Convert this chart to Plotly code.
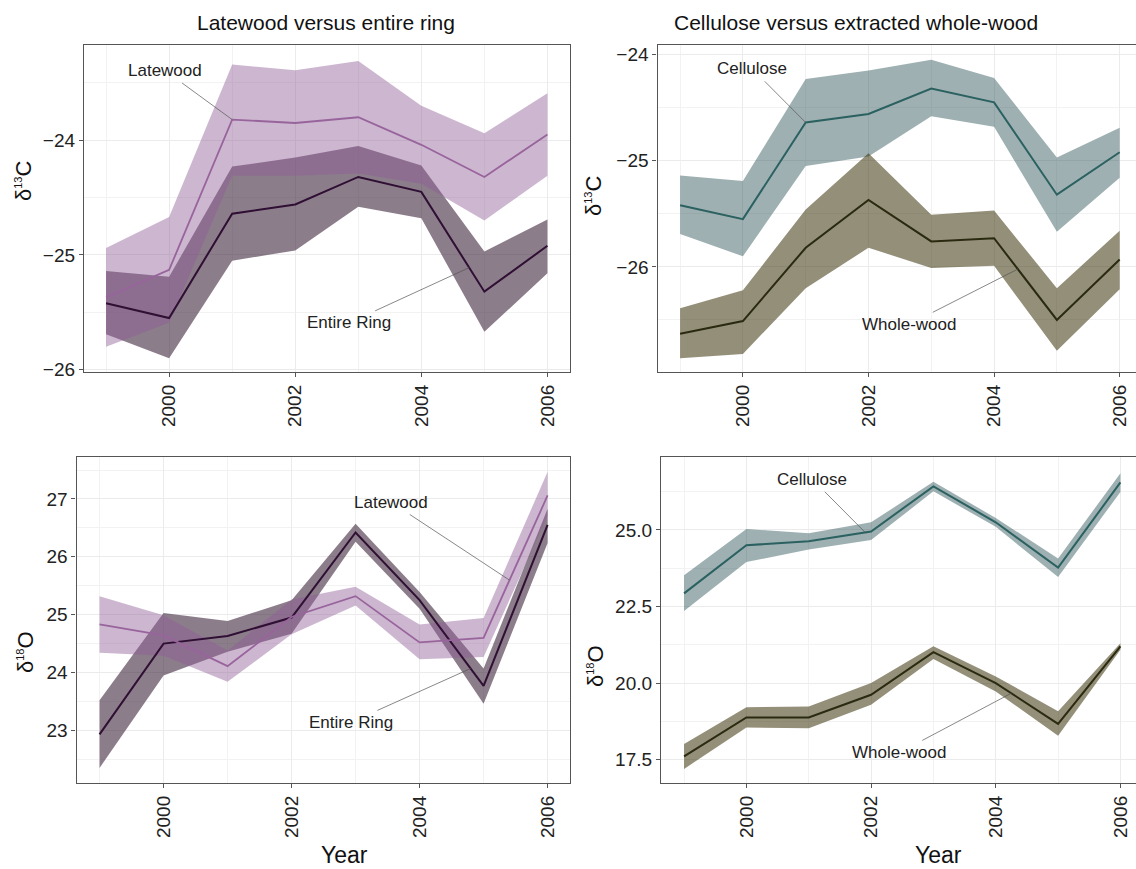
import plotly.graph_objects as go

years = [1999, 2000, 2001, 2002, 2003, 2004, 2005, 2006]

# delta 13C - entire ring / cellulose (same series in both panels)
entire_d13c = [-25.42, -25.55, -24.64, -24.56, -24.32, -24.45, -25.32, -24.92]
entire_d13c_lo = [-25.69, -25.90, -25.05, -24.96, -24.58, -24.68, -25.67, -25.16]
entire_d13c_hi = [-25.14, -25.19, -24.23, -24.15, -24.05, -24.22, -24.97, -24.69]

latewood_d13c = [-25.37, -25.13, -23.82, -23.85, -23.80, -24.04, -24.32, -23.95]
latewood_d13c_lo = [-25.80, -25.59, -24.31, -24.31, -24.29, -24.38, -24.70, -24.31]
latewood_d13c_hi = [-24.94, -24.67, -23.34, -23.39, -23.31, -23.70, -23.94, -23.59]

cellulose_d13c = [-25.42, -25.55, -24.64, -24.56, -24.32, -24.45, -25.32, -24.92]
cellulose_d13c_lo = [-25.69, -25.90, -25.05, -24.96, -24.58, -24.68, -25.67, -25.16]
cellulose_d13c_hi = [-25.14, -25.19, -24.23, -24.15, -24.05, -24.22, -24.97, -24.69]

whole_d13c = [-26.63, -26.51, -25.82, -25.37, -25.76, -25.73, -26.50, -25.93]
whole_d13c_lo = [-26.86, -26.82, -26.20, -25.82, -26.01, -25.99, -26.79, -26.21]
whole_d13c_hi = [-26.39, -26.22, -25.46, -24.93, -25.51, -25.47, -26.20, -25.66]

# delta 18O
entire_d18o = [22.93, 24.50, 24.63, 24.95, 26.42, 25.25, 23.77, 26.55]
entire_d18o_lo = [22.35, 23.95, 24.36, 24.67, 26.26, 25.10, 23.46, 26.24]
entire_d18o_hi = [23.52, 25.03, 24.89, 25.25, 26.57, 25.39, 24.07, 26.83]

latewood_d18o = [24.83, 24.64, 24.11, 24.96, 25.32, 24.52, 24.60, 27.06]
latewood_d18o_lo = [24.34, 24.29, 23.84, 24.66, 25.16, 24.23, 24.27, 26.71]
latewood_d18o_hi = [25.32, 24.99, 24.38, 25.26, 25.48, 24.83, 24.94, 27.47]

cellulose_d18o = [22.93, 24.50, 24.63, 24.95, 26.42, 25.25, 23.77, 26.55]
cellulose_d18o_lo = [22.35, 23.95, 24.36, 24.67, 26.26, 25.10, 23.46, 26.24]
cellulose_d18o_hi = [23.52, 25.03, 24.89, 25.25, 26.57, 25.39, 24.07, 26.85]

whole_d18o = [17.61, 18.88, 18.88, 19.62, 21.01, 20.00, 18.67, 21.20]
whole_d18o_lo = [17.20, 18.55, 18.53, 19.29, 20.79, 19.73, 18.28, 21.09]
whole_d18o_hi = [18.01, 19.21, 19.24, 20.00, 21.20, 20.22, 19.08, 21.30]

panel_titles = ["Latewood versus entire ring", "Cellulose versus extracted whole-wood"]
x_ticks = [2000, 2002, 2004, 2006]

W, H = 1136, 869
FONT = "Liberation Sans, Arial, sans-serif"

C_LATE_FILL = "rgba(144,93,151,0.45)"
C_LATE_LINE = "#98649c"
C_ENT_FILL = "rgba(63,38,62,0.60)"
C_ENT_LINE = "#2f0f33"
C_CEL_FILL = "rgba(40,80,85,0.45)"
C_CEL_LINE = "#2b6160"
C_WW_FILL = "rgba(60,51,11,0.55)"
C_WW_LINE = "#2a2a10"

fig = go.Figure()


def band(xa, ya, lo, hi, color):
    fig.add_trace(go.Scatter(x=years + years[::-1], y=hi + lo[::-1], fill="toself",
                             fillcolor=color, line=dict(width=0), mode="lines",
                             hoverinfo="skip", showlegend=False, xaxis=xa, yaxis=ya))


def line(xa, ya, y, color, w=1.8):
    fig.add_trace(go.Scatter(x=years, y=y, mode="lines", line=dict(color=color, width=w),
                             showlegend=False, xaxis=xa, yaxis=ya))


# Panel 1: top-left
band("x", "y", entire_d13c_lo, entire_d13c_hi, C_ENT_FILL)
band("x", "y", latewood_d13c_lo, latewood_d13c_hi, C_LATE_FILL)
line("x", "y", entire_d13c, C_ENT_LINE, 2.0)
line("x", "y", latewood_d13c, C_LATE_LINE, 1.8)
# Panel 2: top-right
band("x2", "y2", cellulose_d13c_lo, cellulose_d13c_hi, C_CEL_FILL)
band("x2", "y2", whole_d13c_lo, whole_d13c_hi, C_WW_FILL)
line("x2", "y2", cellulose_d13c, C_CEL_LINE, 2.0)
line("x2", "y2", whole_d13c, C_WW_LINE, 2.0)
# Panel 3: bottom-left
band("x3", "y3", entire_d18o_lo, entire_d18o_hi, C_ENT_FILL)
band("x3", "y3", latewood_d18o_lo, latewood_d18o_hi, C_LATE_FILL)
line("x3", "y3", entire_d18o, C_ENT_LINE, 2.0)
line("x3", "y3", latewood_d18o, C_LATE_LINE, 1.8)
# Panel 4: bottom-right
band("x4", "y4", cellulose_d18o_lo, cellulose_d18o_hi, C_CEL_FILL)
band("x4", "y4", whole_d18o_lo, whole_d18o_hi, C_WW_FILL)
line("x4", "y4", cellulose_d18o, C_CEL_LINE, 2.0)
line("x4", "y4", whole_d18o, C_WW_LINE, 2.0)

GRID = "#ebebeb"
BORDER = "#555555"
TICKFONT = dict(family=FONT, size=19, color="#222222")


def xaxis(domain, rng, anchor):
    return dict(domain=domain, range=rng, anchor=anchor, tickvals=x_ticks, tickangle=-90,
                ticks="outside", ticklen=4, tickcolor=BORDER, tickfont=TICKFONT,
                showgrid=True, gridcolor=GRID, gridwidth=1.1, zeroline=False,
                showline=True, linecolor=BORDER, linewidth=1.3, mirror=True,
                minor=dict(tickvals=[1999, 2001, 2003, 2005], showgrid=True,
                           gridcolor="#f2f2f2", gridwidth=0.8, ticks=""),
                automargin=False, fixedrange=True)


def yaxis(domain, rng, anchor, dtick, minor_dtick, tick0, fmt=None, mirror=True):
    d = dict(domain=domain, range=rng, anchor=anchor, dtick=dtick, tick0=tick0,
             ticks="outside", ticklen=4, tickcolor=BORDER, tickfont=TICKFONT,
             showgrid=True, gridcolor=GRID, gridwidth=1.1, zeroline=False,
             showline=True, linecolor=BORDER, linewidth=1.3, mirror=mirror,
             minor=dict(dtick=minor_dtick, tick0=tick0, showgrid=True,
                        gridcolor="#f2f2f2", gridwidth=0.8, ticks=""),
             automargin=False, fixedrange=True)
    if fmt:
        d["tickformat"] = fmt
    return d


def px(v):
    return v / W


def py(v):
    return 1 - v / H


top_dom = [py(372), py(45)]
bot_dom = [py(783), py(456.7)]

fig.update_layout(
    width=W, height=H, margin=dict(l=0, r=0, t=0, b=0),
    paper_bgcolor="white", plot_bgcolor="white",
    font=dict(family=FONT, color="#222222"),
    xaxis=xaxis([px(84), px(569.5)], [1998.65, 2006.35], "y"),
    yaxis=yaxis(top_dom, [-26.02, -23.17], "x", 1, 0.5, -26),
    xaxis2=xaxis([px(657.5), 1.0], [1998.64, 2006.26], "y2"),
    yaxis2=yaxis(top_dom, [-26.99, -23.91], "x2", 1, 0.5, -27, mirror=False),
    xaxis3=xaxis([px(76.5), px(570)], [1998.64, 2006.35], "y3"),
    yaxis3=yaxis(bot_dom, [22.09, 27.73], "x3", 1, 0.5, 22),
    xaxis4=xaxis([px(661), 1.0], [1998.63, 2006.25], "y4"),
    yaxis4=yaxis(bot_dom, [16.74, 27.39], "x4", 2.5, 1.25, 17.5, fmt=".1f", mirror=False),
)

ann = []


def paper_text(text, x, y, font, angle=0):
    ann.append(dict(text=text, x=px(x), y=py(y), xref="paper", yref="paper",
                    xanchor="center", yanchor="middle", textangle=angle,
                    showarrow=False, font=font))


TF = dict(size=21, family=FONT, color="#111111")
paper_text(panel_titles[0], 326, 22, TF)
paper_text(panel_titles[1], 856, 22, TF)

AXF = dict(size=22, family=FONT, color="#111111")
SUP = "<sup><span style='font-size:11px'>{}</span></sup>"
d13c = "δ" + SUP.format("13") + "C"
d18o = "δ" + SUP.format("18") + "O"
paper_text(d13c, 23, 181, AXF, -90)
paper_text(d13c, 593, 196, AXF, -90)
paper_text(d18o, 25, 652, AXF, -90)
paper_text(d18o, 595, 666, AXF, -90)
YF = dict(size=23, family=FONT, color="#111111")
paper_text("Year", 344, 855, YF)
paper_text("Year", 938, 855, YF)

# Series labels with leader lines
LF = dict(size=17, family=FONT, color="#222222")


def label(text, xa, ya, tx, ty, hx, hy):
    ann.append(dict(text=text, xref=xa, yref=ya, axref=xa, ayref=ya, x=hx, y=hy, ax=tx, ay=ty,
                    xanchor="center", yanchor="middle",
                    showarrow=True, arrowhead=0, arrowwidth=0.7, arrowcolor="#555555",
                    standoff=0, startstandoff=2, font=LF))


label("Latewood", "x", "y", 1999.94, -23.395, 2001.0, -23.82)
label("Entire Ring", "x", "y", 2002.86, -25.59, 2004.76, -25.11)
label("Cellulose", "x2", "y2", 2000.15, -24.135, 2001.0, -24.64)
label("Whole-wood", "x2", "y2", 2002.65, -26.54, 2004.38, -26.02)
label("Latewood", "x3", "y3", 2003.56, 26.94, 2005.4, 25.6)
label("Entire Ring", "x3", "y3", 2002.93, 23.14, 2004.8, 24.07)
label("Cellulose", "x4", "y4", 2001.06, 26.65, 2001.92, 24.89)
label("Whole-wood", "x4", "y4", 2002.46, 17.74, 2004.25, 19.67)

fig.update_layout(annotations=ann)
fig.write_html("out.html")
